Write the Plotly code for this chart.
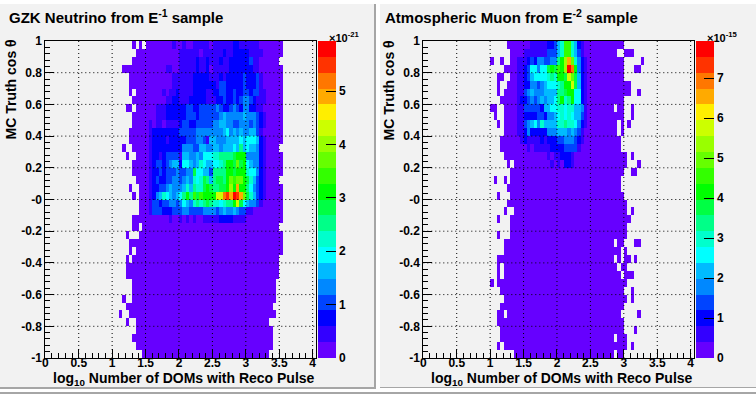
import numpy as np
import plotly.graph_objects as go

X_BINS = 81
Y_BINS = 40
BIN_X = 0.05
BIN_Y = 0.05
BANDS = 20
BAND_COLORS = ["#6600ff", "#3300ff", "#0000ff", "#0044ff", "#0088ff", "#00bbff", "#00ffff",
               "#00ffcc", "#00ff88", "#00ff44", "#00ff00", "#33ff00", "#66ff00", "#99ff00",
               "#ccff00", "#ffee00", "#ffaa00", "#ff7700", "#ff3300", "#ff0000"]

TITLE_A = "GZK Neutrino from E<sup>-1</sup> sample"
TITLE_B = "Atmospheric Muon from E<sup>-2</sup> sample"
X_LABEL = "log<sub>10</sub> Number of DOMs with Reco Pulse"
Y_LABEL = "MC Truth cos θ"
X_TICKS = [0, 0.5, 1, 1.5, 2, 2.5, 3, 3.5, 4]
X_TICK_TEXT = ["0", "0.5", "1", "1.5", "2", "2.5", "3", "3.5", "4"]
Y_TICKS = [-1, -0.8, -0.6, -0.4, -0.2, 0, 0.2, 0.4, 0.6, 0.8, 1]
Y_TICK_TEXT = ["-1", "-0.8", "-0.6", "-0.4", "-0.2", "-0", "0.2", "0.4", "0.6", "0.8", "1"]

ZMAX_A = 5.94
ZMAX_B = 7.93
CB_TICKS_A = [0, 1, 2, 3, 4, 5]
CB_TICKS_B = [0, 1, 2, 3, 4, 5, 6, 7]
EXP_A = "×10<sup>-21</sup>"
EXP_B = "×10<sup>-15</sup>"

# Cells are colour-band indices (base 20, '.' is an empty bin),
# one string per row from cos θ = 1 downwards.
# Panel A: columns 22-29, columns 30-65, then last filled column (exclusive).
A_LEFT = ["....0.0.", ".....000", "....0000", ".0000000", "...00000", "...00000", "...0.000", "....0000",
          "..00.000", "....0000", "....0000", "...00000", "...00000", ".0..0000", "..0..000", "....0000",
          "....0000", ".....000", "...0..00", "....0.00", "......00", "......00", "....0000", "....00.0",
          "..0...00", "...00000", "...0.000", "..0.0000", "..000000", "..000000", "....0000", "....0000",
          ".0..0000", "..000000", "0..00000", "..0..000", ".....000", "....0000", ".....000", ".......0"]
A_CORE = ["000000001001001111101111112211111100",
          "000000000011111101111112112222211110",
          "000000000011111211211121122222231100",
          "000000110011111211201111122222221100",
          "000000001111112222211121222223222310",
          "000000001111112222222133222223222310",
          "000001011211112222112233223223323311",
          "000000112211122222111223223234432111",
          "000111222222332233333432234324422110",
          "000111222222333233333345444445444321",
          "010110111123322333334455443344434321",
          "012222222233333444444445645454455310",
          "012222122222333443155444555565666521",
          "012222222224443355445545556585655421",
          "012212333315544546667788889aaa444421",
          "012332345526654576556678aa9c9a654421",
          "01223233343344966553" + "8888aa9aaa" + "766421",
          "0123223344" + "3454767985" + "8998acbcca" + "975321",
          "0122334544" + "45758779a9" + "8899adagaa" + "864321",
          "0124576545" + "68a8b9baaa" + "aeehigjigc" + "975321",
          "0133233443" + "4654787898" + "776788ae96" + "544310",
          "0133322233" + "3443333444" + "4345445433" + "110000",
          "0000000100" + "1010100111" + "1122221111" + "000000"] + ["0" * 36] * 17
A_END = [71, 71, 70, 71, 71, 71, 71, 71, 71, 71, 71, 71, 71, 70, 71, 71, 71, 70, 71, 71,
         71, 71, 71, 70, 71, 71, 71, 70, 70, 70, 69, 69, 69, 68, 69, 67, 68, 68, 68, 67]

# Panel B: columns 16-27, columns 28-51, columns 52 onwards.
B_LEFT = [".........000", "..........00", "....0..0..00", "........0000", "......00..00", "......0..000",
          "......0.0000", ".......00000", "....00..0000", ".....0..0000", "......0.0000", "........0000",
          ".......00000", ".......00000", "........0000", ".........0.0", "..........00", ".....0..0.00",
          ".........000", "......0...00", ".........000", "........0..0", "......0...00", "..........00",
          "......0...00", "........0000", "........0000", "......000000", "......0.0000", "......0.0000",
          "....0.000000", ".......00000", "........0000", ".......00000", "......00.000", "......000000",
          ".......00000", ".......00000", "......0.0000", "...........0"]
B_CORE = ["000011111223" + "57bb75210000", "001111111333" + "57bb75310000", "111232443344" + "8adgc7421000",
          "1123664669a9" + "badjha421000", "112356666787" + "aa9ec9521000", "112244345666" + "78aae9521000",
          "113454445555" + "889aa6621000", "122343454556" + "8a78a6621000", "113333325566" + "776775541000",
          "112222332445" + "676765531000", "113456475555" + "778776421000", "112422222444" + "555454310000",
          "012111121222" + "334443210000", "000101111122" + "223333100000", "000000000101" + "122210000000",
          "000000000010" + "102210000000"] + ["0" * 24] * 24
B_TAIL = ["00000000", "000000..000", "00000000.....0", "00000000...00", "00000000", "0000000000",
          "0000000000..0", "00000000", "00000.00..0", "00000000..0", "000000.0.0", "000000.0",
          "0000000", "0000000", "000000000.0", "000000000...0", "00000000..00", "0000000",
          "0000000", "00000000", "000000000", "000000000.0", "0000000000", "000000000",
          "000000000", "00000.00...00", "0000000.0", "00000.0.00.0", "000000.00", "0000000.000",
          "000000000", "00000000..0", "000000000.0", "00000000", "0000000.....0", "00000000",
          "00000000...0", "00000.000", "000000000.0", "00000.00"]


def grid_from_a():
    rows = []
    for left, core, end in zip(A_LEFT, A_CORE, A_END):
        tail = "0" * max(end - 66, 0)
        rows.append("." * 22 + left + core + tail)
    return rows


def grid_from_b():
    rows = []
    for left, core, tail in zip(B_LEFT, B_CORE, B_TAIL):
        rows.append("." * 16 + left + core + tail)
    return rows


def decode(rows, zmax):
    z = np.full((Y_BINS, X_BINS), np.nan)
    for i, row in enumerate(rows):
        for j, ch in enumerate(row[:X_BINS]):
            if ch != ".":
                z[Y_BINS - 1 - i, j] = (int(ch, BANDS) + 0.5) * zmax / BANDS
    return z


x_centers = (np.arange(X_BINS) + 0.5) * BIN_X
y_centers = -1 + (np.arange(Y_BINS) + 0.5) * BIN_Y

scale = []
for k, c in enumerate(BAND_COLORS):
    scale.append([k / BANDS, c])
    scale.append([(k + 1) / BANDS, c])

W, H = 756, 394
PLOT_L = [45.3, 423.3]
PLOT_R = [316.0, 694.0]
PLOT_T, PLOT_B = 41.0, 358.0
CB_L = [318.0, 696.0]
CB_W = 17.8
FONT = "Liberation Sans"

fig = go.Figure()

def fx(px):
    return px / W

def fy(py):
    return 1 - py / H

panels = [(grid_from_a(), ZMAX_A, CB_TICKS_A), (grid_from_b(), ZMAX_B, CB_TICKS_B)]
for n, (rows, zmax, cb_ticks) in enumerate(panels):
    suffix = "" if n == 0 else "2"
    fig.add_trace(go.Heatmap(
        x=x_centers, y=y_centers, z=decode(rows, zmax), zmin=0, zmax=zmax,
        colorscale=scale, hoverongaps=False, xaxis="x" + suffix, yaxis="y" + suffix,
        colorbar=dict(
            x=fx(CB_L[n]), xanchor="left", xpad=0, ypad=0, y=fy(PLOT_B), yanchor="bottom",
            len=(PLOT_B - PLOT_T) / H, lenmode="fraction", thickness=CB_W, thicknessmode="pixels",
            tickmode="array", tickvals=cb_ticks, ticktext=[str(t) for t in cb_ticks],
            ticks="inside", ticklen=10, tickwidth=1, tickcolor="black",
            tickfont=dict(family=FONT, size=12, color="black", weight=700),
            outlinewidth=0, borderwidth=0,
        ),
    ))

axis_font = dict(family=FONT, size=12, color="black", weight=700)
label_font = dict(family=FONT, size=14, color="black", weight=700)
layout = dict(
    width=W, height=H, margin=dict(l=0, r=0, t=0, b=0, autoexpand=False), autosize=False,
    paper_bgcolor="#ffffff", plot_bgcolor="#ffffff", showlegend=False, font=dict(family=FONT),
)
for n in range(2):
    suffix = "" if n == 0 else "2"
    layout["xaxis" + suffix] = dict(
        domain=[fx(PLOT_L[n]), fx(PLOT_R[n])], range=[0, X_BINS * BIN_X], anchor="y" + suffix,
        automargin=False, layer="above traces", ticklabelstandoff=-6,
        tickmode="array", tickvals=X_TICKS, ticktext=X_TICK_TEXT, ticks="inside", ticklen=9,
        tickcolor="black", tickfont=axis_font, showgrid=False,
        showline=True, linecolor="black", linewidth=1, mirror=True, zeroline=False,
        minor=dict(dtick=0.1, ticks="inside", ticklen=5, tickcolor="black", showgrid=False),
    )
    layout["yaxis" + suffix] = dict(
        domain=[fy(PLOT_B), fy(PLOT_T)], range=[-1, 1], anchor="x" + suffix,
        automargin=False, layer="above traces",
        tickmode="array", tickvals=Y_TICKS, ticktext=Y_TICK_TEXT, ticks="inside", ticklen=9,
        tickcolor="black", tickfont=axis_font, showgrid=False,
        showline=True, linecolor="black", linewidth=1, mirror=True, zeroline=False,
        minor=dict(dtick=0.04, ticks="inside", ticklen=5, tickcolor="black", showgrid=False),
    )
fig.update_layout(**layout)

GRAY = "#a6a6a6"
PADS = [(0, 4, 374, 387), (380, 4, 756, 387)]
BARS = [(374, 4, 376, 389), (0, 387, 376, 389), (380, 387, 756, 388), (0, 392, 756, 394)]


def rect(x0, y0, x1, y1, color):
    return dict(type="rect", xref="paper", yref="paper", x0=fx(x0), x1=fx(x1), y0=fy(y1), y1=fy(y0),
                fillcolor=color, line=dict(width=0), layer="below")


shapes = [rect(*p, "#f2f2f2") for p in PADS] + [rect(*b, GRAY) for b in BARS]
DOT = dict(color="black", width=1, dash="1px,3px")
for n in range(2):
    suffix = "" if n == 0 else "2"
    for t in X_TICKS[1:]:
        shapes.append(dict(type="line", xref="x" + suffix, yref="y" + suffix, x0=t, x1=t, y0=-1, y1=1,
                           line=DOT, layer="above"))
    for t in Y_TICKS[1:-1]:
        shapes.append(dict(type="line", xref="x" + suffix, yref="y" + suffix, x0=0, x1=X_BINS * BIN_X, y0=t, y1=t,
                           line=DOT, layer="above"))
fig.update_layout(shapes=shapes)

annos = []
titles = [TITLE_A, TITLE_B]
exps = [EXP_A, EXP_B]
for n in range(2):
    offset = 378 * n
    annos.append(dict(text=titles[n], xref="paper", yref="paper", x=fx((7 if n == 0 else 5) + offset), y=fy(16),
                      xanchor="left", yanchor="middle", showarrow=False, font=dict(family=FONT, size=15, color="black", weight=700)))
    annos.append(dict(text=X_LABEL, xref="paper", yref="paper", x=fx(317 + offset), y=fy(379),
                      xanchor="right", yanchor="middle", showarrow=False, font=label_font))
    annos.append(dict(text=Y_LABEL, xref="paper", yref="paper", x=fx(10.5 + offset), y=fy(90),
                      xanchor="center", yanchor="middle", textangle=-90, showarrow=False, font=label_font))
    annos.append(dict(text=exps[n], xref="paper", yref="paper", x=fx(362 + offset), y=fy(37),
                      xanchor="right", yanchor="middle", showarrow=False, font=dict(family=FONT, size=11, color="black", weight=700)))
fig.update_layout(annotations=annos)

fig.write_html("out.html", config=dict(displayModeBar=False),
               post_script="document.body.style.margin='0';document.body.style.overflow='hidden';")
